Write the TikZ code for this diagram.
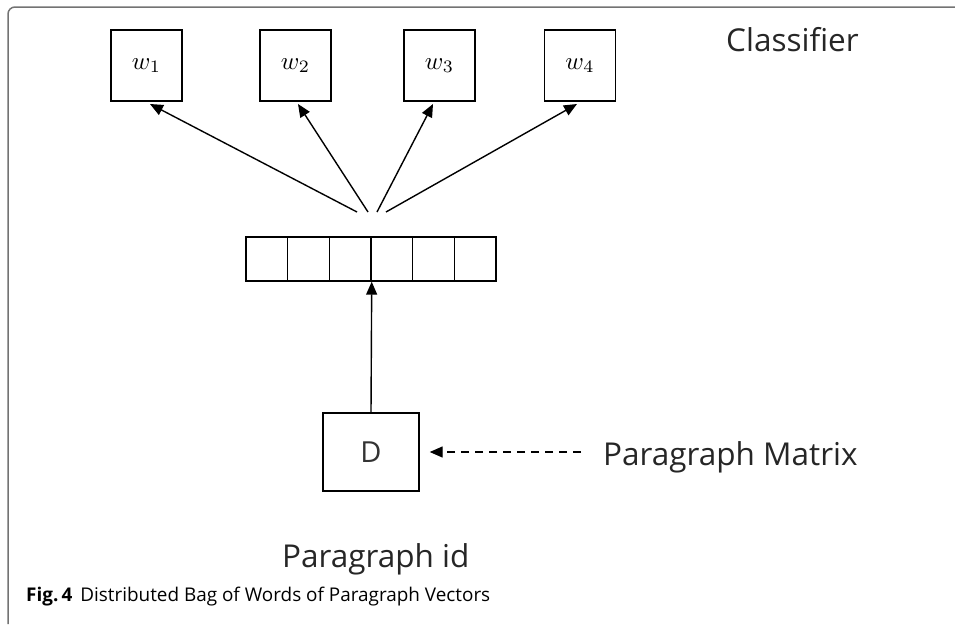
\RequirePackage{fix-cm}
\documentclass[tikz,border=0pt]{standalone}
\usepackage{fontspec}
\setmainfont{Open Sans}
\usetikzlibrary{arrows.meta,calc}
\begin{document}
\begin{tikzpicture}[x=1pt,y=-1pt,
  line/.style={draw=black,line width=1.4pt},
  wordbox/.style={line,minimum width=71pt,minimum height=71pt,inner sep=0pt},
  cell/.style={line,minimum width=41.67pt,minimum height=44pt,inner sep=0pt},
  docbox/.style={line,minimum width=96pt,minimum height=78pt,inner sep=0pt,font=\fontsize{29}{29}\selectfont\color{black!80}},
  arr/.style={line,-{Triangle[length=13pt,width=11pt]}},
  label/.style={font=\fontsize{31.5}{31.5}\selectfont,text=black!85,inner sep=0pt}]
\newcommand{\wordsym}[1]{\scalebox{2.5}{$w_{#1}$}}
\useasboundingbox (0,0) rectangle (955,624);
% outer frame
\draw[draw=black!55,line width=1.5pt,rounded corners=7pt] (8,624) -- (8,7) -- (960,7);

% output words
\node[wordbox] (w1) at (146.5,65.5) {\wordsym{1}};
\node[wordbox] (w2) at (295.5,65.5) {\wordsym{2}};
\node[wordbox] (w3) at (439.5,65.5) {\wordsym{3}};
\node[wordbox] (w4) at (580,65.5) {\wordsym{4}};
\node[label,anchor=base west] (cls) at (726,51) {Classifier};

% paragraph vector
\foreach \i in {1,...,6}
  \node[cell] (v\i) at ({246+41.67*(\i-0.5)},259) {};

% fan of arrows to the classifier
\coordinate (s1) at (357,212);
\coordinate (s2) at (368,212);
\coordinate (s3) at (377,212);
\coordinate (s4) at (386,212);
\coordinate (t1) at (150,104);
\coordinate (t2) at (298,104);
\coordinate (t3) at (433,104);
\coordinate (t4) at (577,104);
\foreach \i in {1,...,4}
  \draw[arr] (s\i) -- (t\i);

% paragraph id
\node[docbox] (D) at (371,452) {D};
\draw[arr] (D.north) -- (v3.south east);

\coordinate (pm) at (581,452);
\draw[arr,dash pattern=on 8pt off 6pt] (pm) -- ([xshift=10pt]D.east);
\node[label,anchor=base west] (pmat) at (603,465) {Paragraph Matrix};
\node[label,anchor=base west] (pid) at (282,567) {Paragraph id};

% caption
\node[anchor=base west,inner sep=0pt,font=\fontsize{18.9}{18.9}\selectfont] (cap) at (26,601)
  {\textbf{Fig.\,4}\hspace{8pt}Distributed Bag of Words of Paragraph Vectors};
\end{tikzpicture}
\end{document}
